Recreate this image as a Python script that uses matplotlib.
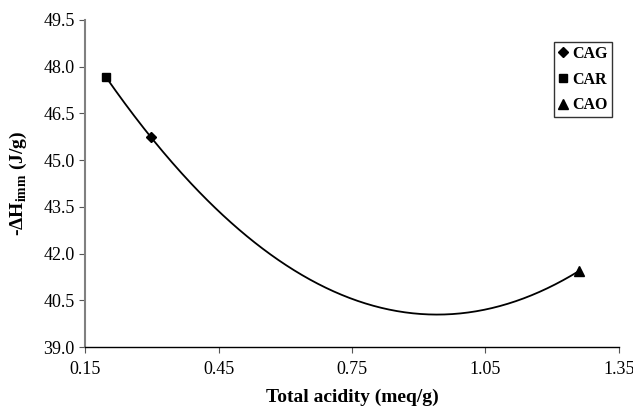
import numpy as np
import matplotlib
matplotlib.use("Agg")
import matplotlib.pyplot as plt

names = ["CAG", "CAR", "CAO"]
acidity = [0.298, 0.197, 1.26]
dh_imm = [45.74, 47.67, 41.44]
markers = ["D", "s", "^"]
msizes = [5, 6, 7]

xticks = [0.15, 0.45, 0.75, 1.05, 1.35]
yticks = [39.0, 40.5, 42.0, 43.5, 45.0, 46.5, 48.0, 49.5]

plt.rcParams['font.family'] = ['Liberation Serif', 'DejaVu Serif']
plt.rcParams['mathtext.fontset'] = 'custom'
plt.rcParams['mathtext.rm'] = 'Liberation Serif:bold'
plt.rcParams['mathtext.bf'] = 'Liberation Serif:bold'

fig = plt.figure(figsize=(6.33, 4.07), dpi=100)
ax = fig.add_axes([85/633, 1-347/407, (619-85)/633, (347-20)/407])

# quadratic trend line through the points
coef = np.polyfit(acidity, dh_imm, 2)
xs = np.linspace(min(acidity), max(acidity), 300)
ax.plot(xs, np.polyval(coef, xs), color='black', lw=1.3, zorder=2)

for n, x, y, m, s in zip(names, acidity, dh_imm, markers, msizes):
    ax.plot([x], [y], linestyle='none', marker=m, markersize=s, color='black', label=n, zorder=3)

ax.set_xlim(0.15, 1.35)
ax.set_ylim(39.0, 49.5)
ax.set_xticks(xticks)
ax.set_xticklabels([f"{v:.2f}" for v in xticks])
ax.set_yticks(yticks)
ax.set_yticklabels([f"{v:.1f}" for v in yticks])
ax.tick_params(axis='both', labelsize=13, direction='out', length=4, color='#555555')
ax.tick_params(axis='x', pad=6)
for s in ['top', 'right']:
    ax.spines[s].set_visible(False)
ax.spines['left'].set_color('#808080')
ax.spines['left'].set_linewidth(1.5)
ax.spines['bottom'].set_color('black')
ax.spines['bottom'].set_linewidth(1.0)

ax.set_xlabel("Total acidity (meq/g)", fontsize=14, fontweight='bold', labelpad=8)
ax.set_ylabel(r"-ΔH$_{\mathrm{imm}}$ (J/g)", fontsize=14, fontweight='bold', labelpad=10)

leg = ax.legend(loc='upper right', bbox_to_anchor=(612/633, 1-42/407), bbox_transform=fig.transFigure,
                borderaxespad=0, frameon=True, fancybox=False, edgecolor='black', handlelength=0.6,
                handletextpad=0.3, borderpad=0.25, labelspacing=0.6,
                prop={'family': 'Liberation Serif', 'weight': 'bold', 'size': 11.5})
leg.get_frame().set_linewidth(1.0)

fig.savefig("out.png", dpi=100)
